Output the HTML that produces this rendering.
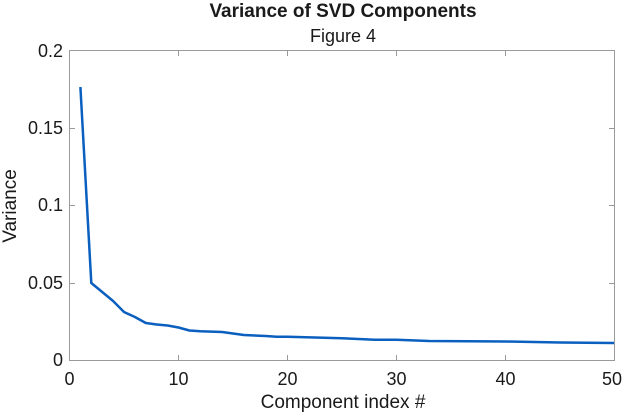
<!DOCTYPE html>
<html><head><style>body{margin:0;background:#fff}svg{display:block}text{font-family:"Liberation Sans",Arial,sans-serif;fill:#1a1a1a}</style></head>
<body>
<svg width="624" height="412" viewBox="0 0 624 412">
<rect width="624" height="412" fill="#fff"/>
<text x="343" y="17" font-size="19" font-weight="bold" text-anchor="middle">Variance of SVD Components</text>
<text x="343" y="42" font-size="18" text-anchor="middle">Figure 4</text>
<g stroke="#9a9a9a" stroke-width="1" fill="none">
<rect x="69.5" y="50.5" width="545" height="310"/>
<path d="M178.5 360v-5M287.5 360v-5M396.5 360v-5M505.5 360v-5M178.5 51v5M287.5 51v5M396.5 51v5M505.5 51v5"/>
<path d="M70 283.5h5M70 205.5h5M70 128.5h5M614 283.5h-5M614 205.5h-5M614 128.5h-5"/>
</g>
<g font-size="18" text-anchor="end">
<text x="63" y="366">0</text><text x="63" y="289">0.05</text><text x="63" y="211">0.1</text><text x="63" y="134">0.15</text><text x="63" y="57">0.2</text>
</g>
<g font-size="18" text-anchor="middle">
<text x="69.5" y="385">0</text><text x="178.5" y="385">10</text><text x="287.5" y="385">20</text><text x="396.5" y="385">30</text><text x="505.5" y="385">40</text><text x="612" y="385">50</text>
</g>
<text x="343" y="408" font-size="19" text-anchor="middle">Component index #</text>
<text transform="translate(16,206) rotate(-90)" font-size="19" text-anchor="middle">Variance</text>
<polyline fill="none" stroke="#0a5fbf" stroke-width="2.5" stroke-linejoin="round" points="
80.4,87 91.3,283 102.2,292 113.1,301 124,312 134.9,317 145.8,323 156.7,324.5 167.6,325.5 178.5,327.5 189.4,330.5 200.3,331.3 222.1,332 243.9,335 265.7,336 276.6,336.8 287.5,336.8 342,338.3 374.7,339.8 396.5,339.8 429.2,341 505.5,341.5 560,342.5 614,343"/>
</svg>
</body></html>
